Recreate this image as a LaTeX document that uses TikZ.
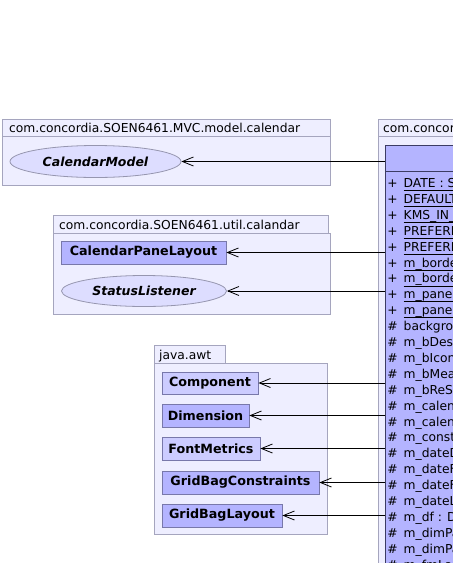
\documentclass[tikz,border=0pt]{standalone}
\usepackage{fontspec}
\setmainfont{DejaVu Sans}
\usetikzlibrary{shapes.geometric,arrows.meta}
\definecolor{pkgfill}{RGB}{238,238,255}
\definecolor{pkgdraw}{RGB}{165,165,190}
\definecolor{clsfill}{RGB}{180,180,255}
\definecolor{clslight}{RGB}{204,204,255}
\definecolor{clsdraw}{RGB}{120,120,170}
\definecolor{maindraw}{RGB}{60,60,100}
\definecolor{ellfill}{RGB}{221,221,255}
\definecolor{elldraw}{RGB}{150,150,175}
\tikzset{
  pkgbox/.style={draw=pkgdraw, fill=pkgfill, line width=0.8pt},
  pkglabel/.style={inner sep=0pt, anchor=base west, font=\fontsize{12.3pt}{14pt}\selectfont},
  clsbox/.style={draw=clsdraw, fill=clsfill, line width=0.8pt, inner sep=0pt,
     font=\fontsize{12.7pt}{14pt}\selectfont\bfseries},
  clslt/.style={clsbox, fill=clslight},
  iface/.style={ellipse, draw=elldraw, fill=ellfill, line width=0.8pt, inner sep=0pt,
     font=\fontsize{12.5pt}{14pt}\selectfont\bfseries\itshape},
  dep/.style={draw=black, line width=0.9pt, -{Straight Barb[length=11pt,width=9pt,line width=0.8pt]}},
  rowtxt/.style={inner sep=0pt, anchor=base west, font=\fontsize{12.3pt}{14pt}\selectfont},
  rowsym/.style={inner sep=0pt, anchor=base, font=\fontsize{12.3pt}{14pt}\selectfont}
}
\begin{document}
\begin{tikzpicture}[x=1pt,y=-1pt]
\useasboundingbox (0,0) rectangle (453,563);
\fill[white] (0,0) rectangle (453,563);
\clip (0,0) rectangle (453,563);

% package 1
\draw[pkgbox] (2,119) rectangle (330,136);
\draw[pkgbox] (2,136) rectangle (330,185);
\node[pkglabel] (p1lab) at (9,132) {com.concordia.SOEN6461.MVC.model.calendar};
\node[iface, minimum width=171pt, minimum height=32pt] (calmodel) at (95.5,161.5) {CalendarModel};

% package 2
\draw[pkgbox] (53,215) rectangle (328,233);
\draw[pkgbox] (53,233) rectangle (330,314);
\node[pkglabel] (p2lab) at (59,229) {com.concordia.SOEN6461.util.calandar};
\node[clsbox, minimum width=165pt, minimum height=23pt] (cpl) at (143.5,252.5) {CalendarPaneLayout};
\node[iface, minimum width=165pt, minimum height=31pt] (status) at (144,291) {StatusListener};

% package 3
\draw[pkgbox] (154,345) rectangle (225,363);
\draw[pkgbox] (154,363) rectangle (327,534);
\node[pkglabel] (p3lab) at (159,359) {java.awt};
\node[clslt,  minimum width=96pt,  minimum height=22pt] (component) at (210,383) {Component};
\node[clsbox, minimum width=87pt,  minimum height=23pt] (dimension) at (205.5,415.5) {Dimension};
\node[clslt,  minimum width=98pt,  minimum height=23pt] (fontmetrics) at (211,448.5) {FontMetrics};
\node[clsbox, minimum width=157pt, minimum height=23pt] (gbc) at (240.5,482.5) {GridBagConstraints};
\node[clsbox, minimum width=120pt, minimum height=23pt] (gbl) at (222,515.5) {GridBagLayout};

% main package
\draw[pkgbox] (378,119) rectangle (470,136);
\draw[pkgbox] (378,136) rectangle (470,600);
\node[pkglabel] (p4lab) at (383,132) {com.concordia.SOEN6461.view};
\node[draw=maindraw, fill=clsfill, line width=0.9pt, anchor=north west, inner sep=0pt,
      minimum width=90pt, minimum height=470pt] (main) at (385,145) {};
\draw[maindraw, line width=0.9pt] (main.west |- 0,171) -- (main.east |- 0,171);

% static attributes
\foreach \i/\t in {0/DATE : String, 1/DEFAULT\_TIME, 2/KMS\_IN\_A\_DAY, 3/PREFERRED\_H, 4/PREFERRED\_W,
  5/m\_borderColor, 6/m\_borderWidth, 7/m\_paneColor, 8/m\_paneFont}{
  \node[rowsym] (s\i) at (392.5,187.5+15.9*\i) {+};
  \node[rowtxt] (r\i) at (403.5,187.5+15.9*\i) {\t};
  \draw[black, line width=0.8pt] (403.5,190.5+15.9*\i) -- (460,190.5+15.9*\i);
}
% protected attributes
\foreach \i/\t in {9/background, 10/m\_bDescription, 11/m\_bIcon, 12/m\_bMeasure, 13/m\_bReSize,
  14/m\_calendar, 15/m\_calendarModel, 16/m\_constraints, 17/m\_dateDisplay, 18/m\_dateFormat,
  19/m\_dateFont, 20/m\_dateLabel, 21/m\_df : DateFormat, 22/m\_dimPane, 23/m\_dimPanel, 24/m\_fmLabel}{
  \node[rowsym] (s\i) at (392.5,187.5+15.9*\i) {\#};
  \node[rowtxt] (r\i) at (403.5,187.5+15.9*\i) {\t};
}

% dependencies
\draw[dep] (calmodel.east -| main.west) -- (calmodel.east);
\draw[dep] (cpl.east -| main.west) -- (cpl.east);
\draw[dep] (status.east -| main.west) -- (status.east);
\draw[dep] (component.east -| main.west) -- (component.east);
\draw[dep] (dimension.east -| main.west) -- (dimension.east);
\draw[dep] (fontmetrics.east -| main.west) -- (fontmetrics.east);
\draw[dep] (gbc.east -| main.west) -- (gbc.east);
\draw[dep] (gbl.east -| main.west) -- (gbl.east);
\end{tikzpicture}
\end{document}
